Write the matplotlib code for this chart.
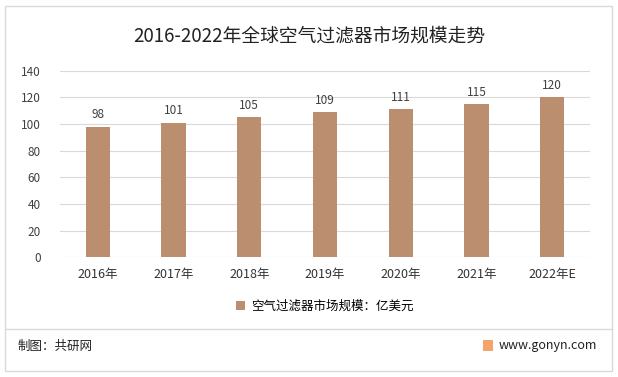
import matplotlib.pyplot as plt
from matplotlib.patches import Rectangle
from matplotlib.lines import Line2D

plt.rcParams['font.family'] = ['Noto Sans CJK SC', 'DejaVu Sans']

years = ["2016年", "2017年", "2018年", "2019年", "2020年", "2021年", "2022年E"]
market = [98, 101, 105, 109, 111, 115, 120]
bar_color = "#BA8E6E"

fig = plt.figure(figsize=(6.18, 3.77), dpi=100)
ax = fig.add_axes([0.097, 0.318, 0.858, 0.494])

x = range(len(years))
bars = ax.bar(x, market, width=0.32, color=bar_color, zorder=3, label="空气过滤器市场规模：亿美元")
for xi, v in zip(x, market):
    ax.text(xi, v + 4, str(v), ha="center", va="bottom", fontsize=8.5, color="#404040")

ax.set_xlim(-0.5, len(years) - 0.5)
ax.set_ylim(0, 140)
ax.set_yticks(range(0, 141, 20))
ax.set_xticks(list(x))
ax.set_xticklabels(years, fontsize=9, color="#333333")
ax.tick_params(axis="y", labelsize=8.5, labelcolor="#404040", length=0, pad=14)
ax.tick_params(axis="x", length=0, pad=8)
ax.grid(axis="y", color="#D9D9D9", linewidth=0.8, zorder=0)
for s in ax.spines.values():
    s.set_visible(False)

ax.legend(loc="upper center", bbox_to_anchor=(0.5, -0.17), frameon=False,
          fontsize=9, handlelength=0.7, handleheight=0.7, handletextpad=0.5)

fig.text(0.5, 0.905, "2016-2022年全球空气过滤器市场规模走势", ha="center", va="center",
         fontsize=13.5, color="#222222")

# outer frame and footer
fig.add_artist(Rectangle((0.008, 0.016), 0.982, 0.968, transform=fig.transFigure,
                         fill=False, edgecolor="#D9D9D9", linewidth=1))
fig.add_artist(Line2D([0.008, 0.99], [0.127, 0.127], transform=fig.transFigure,
                      color="#D9D9D9", linewidth=1))
fig.text(0.028, 0.08, "制图：共研网", ha="left", va="center", fontsize=9, color="#222222")
fig.add_artist(Rectangle((0.782, 0.068), 0.016, 0.03, transform=fig.transFigure,
                         facecolor="#F2A46A", edgecolor="none"))
fig.text(0.807, 0.083, "www.gonyn.com", ha="left", va="center", fontsize=9, color="#222222")

fig.savefig("out.png", dpi=100)
